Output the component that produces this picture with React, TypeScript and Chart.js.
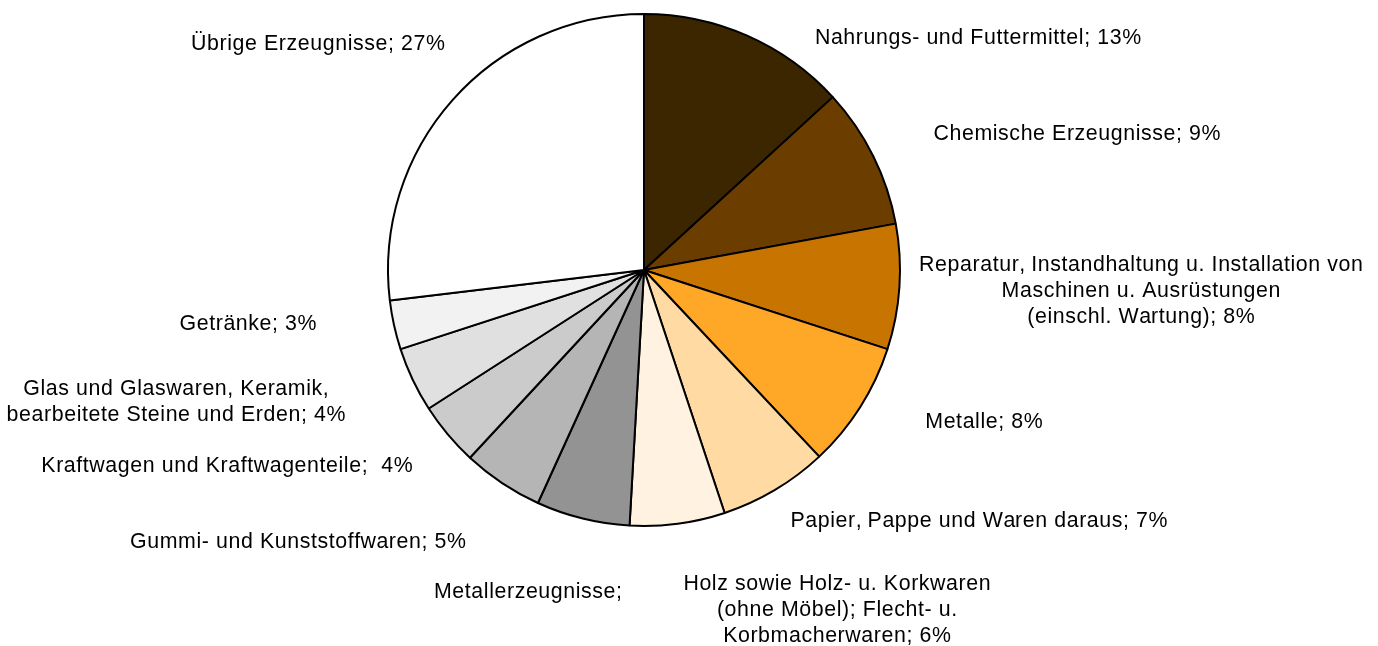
import React, { useEffect, useRef } from "react";
import { Chart, registerables } from "chart.js";

Chart.register(...registerables);

const categories: string[] = [
  "Nahrungs- und Futtermittel",
  "Chemische Erzeugnisse",
  "Reparatur, Instandhaltung u. Installation von Maschinen u. Ausrüstungen (einschl. Wartung)",
  "Metalle",
  "Papier, Pappe und Waren daraus",
  "Holz sowie Holz- u. Korkwaren (ohne Möbel); Flecht- u. Korbmacherwaren",
  "Metallerzeugnisse",
  "Gummi- und Kunststoffwaren",
  "Kraftwagen und Kraftwagenteile",
  "Glas und Glaswaren, Keramik, bearbeitete Steine und Erden",
  "Getränke",
  "Übrige Erzeugnisse",
];

const values: number[] = [13.2, 8.9, 7.9, 8.0, 6.9, 6.0, 5.9, 5.1, 4.0, 4.1, 3.1, 26.9];

const labelLines: string[][] = [
  ["Nahrungs- und Futtermittel; 13%"],
  ["Chemische Erzeugnisse; 9%"],
  ["Reparatur, Instandhaltung u. Installation von", "Maschinen u. Ausrüstungen", "(einschl. Wartung); 8%"],
  ["Metalle; 8%"],
  ["Papier, Pappe und Waren daraus; 7%"],
  ["Holz sowie Holz- u. Korkwaren", "(ohne Möbel); Flecht- u.", "Korbmacherwaren; 6%"],
  ["Metallerzeugnisse;"],
  ["Gummi- und Kunststoffwaren; 5%"],
  ["Kraftwagen und Kraftwagenteile;  4%"],
  ["Glas und Glaswaren, Keramik,", "bearbeitete Steine und Erden; 4%"],
  ["Getränke; 3%"],
  ["Übrige Erzeugnisse; 27%"],
];

// label text centre (first line) relative to pie centre, px
const labelOffsets: [number, number][] = [
  [334, -232],
  [433, -136],
  [497, -5],
  [340, 152],
  [335, 251],
  [193, 314],
  [-116, 322],
  [-346, 272],
  [-417, 196],
  [-468, 119],
  [-396, 54],
  [-326, -226],
];

const colors: string[] = [
  "#3C2600",
  "#6B3E00",
  "#C77500",
  "#FFA726",
  "#FFDAA3",
  "#FFF2E0",
  "#939393",
  "#B5B5B5",
  "#CBCBCB",
  "#E0E0E0",
  "#F2F2F2",
  "#FFFFFF",
];

const FONT = '21.33px "Liberation Sans", Arial, sans-serif';
const LINE_H = 26;
const LETTER_SPACING = 0.6;

function drawSpacedLine(ctx: CanvasRenderingContext2D, text: string, cx: number, y: number) {
  const chars = Array.from(text);
  const total = ctx.measureText(text).width + LETTER_SPACING * (chars.length - 1);
  const x0 = cx - total / 2;
  let prefix = "";
  chars.forEach((ch, i) => {
    const px = ctx.measureText(prefix).width;
    if (ch !== " ") ctx.fillText(ch, x0 + px + i * LETTER_SPACING, y);
    prefix += ch;
  });
}

const labelPlugin = {
  id: "sliceLabels",
  afterDraw(chart: any) {
    const meta = chart.getDatasetMeta(0);
    const arc = meta.data[0];
    if (!arc) return;
    const cx = arc.x;
    const cy = arc.y;
    const ctx = chart.ctx as CanvasRenderingContext2D;
    ctx.save();
    ctx.font = FONT;
    ctx.fillStyle = "#000000";
    ctx.textAlign = "left";
    ctx.textBaseline = "middle";
    labelLines.forEach((lines, i) => {
      const [dx, dy] = labelOffsets[i];
      lines.forEach((line, j) => {
        drawSpacedLine(ctx, line, cx + dx, cy + dy + j * LINE_H);
      });
    });
    ctx.restore();
  },
};

export default function App() {
  const ref = useRef<HTMLCanvasElement | null>(null);
  useEffect(() => {
    if (!ref.current) return;
    const chart = new Chart(ref.current, {
      type: "pie",
      data: {
        labels: categories,
        datasets: [
          {
            data: values,
            backgroundColor: colors,
            borderColor: "#000000",
            borderWidth: 2,
          },
        ],
      },
      options: {
        animation: false,
        responsive: false,
        devicePixelRatio: 1,
        radius: 256,
        layout: { padding: { left: 0, right: 90, top: 0, bottom: 106 } },
        plugins: {
          legend: { display: false },
          tooltip: { enabled: false },
        },
      } as any,
      plugins: [labelPlugin],
    });
    return () => chart.destroy();
  }, []);
  return (
    <div style={{ position: "absolute", left: 0, top: 0, width: 1378, height: 646, background: "#fff" }}>
      <canvas ref={ref} width={1378} height={646} />
    </div>
  );
}
